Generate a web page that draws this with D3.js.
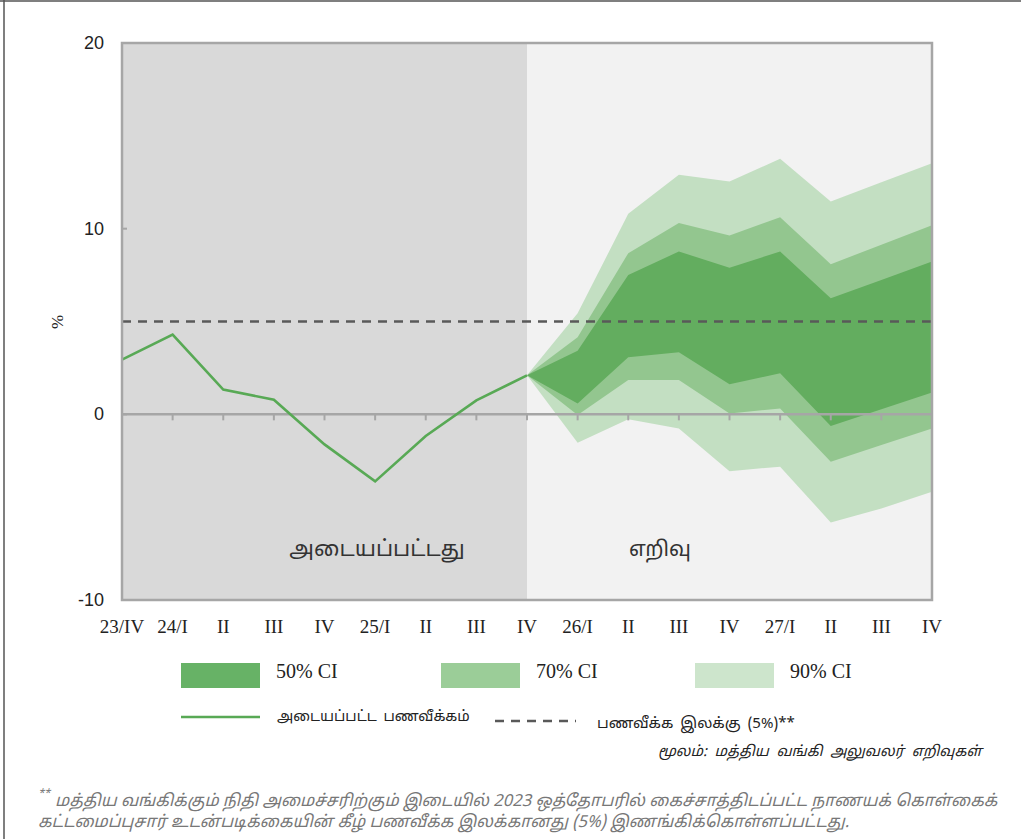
<!DOCTYPE html>
<html><head><meta charset="utf-8">
<script src="https://cdn.jsdelivr.net/npm/d3@7"></script>
<style>
html,body{margin:0;padding:0;background:#fff;}
svg{display:block;}
</style></head>
<body>
<svg id="chart" width="1021" height="839"></svg>
<script>
const categories = ["23/IV","24/I","II","III","IV","25/I","II","III","IV","26/I","II","III","IV","27/I","II","III","IV"];
const actual = [2.95, 4.3, 1.33, 0.79, -1.62, -3.61, -1.17, 0.75, 2.1];
// forecast bands start at index 8 (25/IV)
const ci50Upper = [2.1, 3.43, 7.51, 8.77, 7.9, 8.77, 6.25, 7.24, 8.23];
const ci50Lower = [2.1, 0.59, 3.07, 3.34, 1.62, 2.21, -0.63, 0.27, 1.17];
const ci70Upper = [2.1, 4.15, 8.68, 10.3, 9.63, 10.62, 8.09, 9.13, 10.19];
const ci70Lower = [2.1, -0.04, 1.85, 1.85, 0.05, 0.32, -2.55, -1.65, -0.76];
const ci90Upper = [2.1, 5.44, 10.8, 12.9, 12.54, 13.76, 11.46, 12.5, 13.53];
const ci90Lower = [2.1, -1.53, -0.27, -0.76, -3.06, -2.82, -5.82, -5.07, -4.17];
const yTicks = [-10, 0, 10, 20];
const target = 5;
const forecastStart = 8;

const svg = d3.select("#chart");
const L = 122, R = 932, T = 43, B = 600;
const x = d3.scalePoint().domain(d3.range(categories.length)).range([L, R]);
const y = d3.scaleLinear().domain([-10, 20]).range([B, T]);

// outer frame
svg.append("line").attr("x1",4).attr("x2",4).attr("y1",0).attr("y2",839).attr("stroke","#555").attr("stroke-width",1.5);
svg.append("line").attr("x1",0).attr("x2",1021).attr("y1",1).attr("y2",1).attr("stroke","#555").attr("stroke-width",1.5);

// backgrounds
svg.append("rect").attr("x",L).attr("y",T).attr("width",x(forecastStart)-L).attr("height",B-T).attr("fill","#d9d9d9");
svg.append("rect").attr("x",x(forecastStart)).attr("y",T).attr("width",R-x(forecastStart)).attr("height",B-T).attr("fill","#f2f2f2");

// bands
const fIdx = d3.range(forecastStart, categories.length);
function band(up, lo, color){
  const a = d3.area().x((d,i)=>x(fIdx[i])).y0((d,i)=>y(lo[i])).y1((d,i)=>y(up[i]));
  svg.append("path").datum(up).attr("d", a).attr("fill", color);
}
band(ci90Upper, ci90Lower, "#c3dfc2");
band(ci70Upper, ci70Lower, "#93c68f");
band(ci50Upper, ci50Lower, "#63ad5f");

// zero line & ticks
svg.append("line").attr("x1",L).attr("x2",R).attr("y1",y(0)).attr("y2",y(0)).attr("stroke","#a6a6a6").attr("stroke-width",2.5);
svg.selectAll(".xt").data(d3.range(categories.length)).join("line")
  .attr("x1",d=>x(d)).attr("x2",d=>x(d)).attr("y1",y(0)).attr("y2",y(0)+6)
  .attr("stroke","#a6a6a6").attr("stroke-width",2);
// y ticks (inward)
svg.selectAll(".yt").data(yTicks).join("line")
  .attr("x1",L).attr("x2",L+5).attr("y1",d=>y(d)).attr("y2",d=>y(d))
  .attr("stroke","#a6a6a6").attr("stroke-width",2);

// target dashed line
svg.append("line").attr("x1",L).attr("x2",R).attr("y1",y(target)).attr("y2",y(target))
  .attr("stroke","#595959").attr("stroke-width",2.5).attr("stroke-dasharray","9,7");

// actual line
svg.append("path").datum(actual)
  .attr("d", d3.line().x((d,i)=>x(i)).y(d=>y(d)))
  .attr("fill","none").attr("stroke","#58a955").attr("stroke-width",2.6);

// border
svg.append("rect").attr("x",L).attr("y",T).attr("width",R-L).attr("height",B-T)
  .attr("fill","none").attr("stroke","#a6a6a6").attr("stroke-width",2.5);

// y labels
svg.selectAll(".yl").data(yTicks).join("text")
  .attr("x",104).attr("y",d=>y(d)+6).attr("text-anchor","end")
  .attr("font-family","Liberation Sans, Arial, sans-serif").attr("font-size",18).attr("fill","#222")
  .text(d=>d);
svg.append("text").attr("transform","translate(63,322) rotate(-90)").attr("text-anchor","middle")
  .attr("font-family","Liberation Serif, serif").attr("font-size",17).attr("fill","#222").text("%");

// x labels
svg.selectAll(".xl").data(categories).join("text")
  .attr("x",(d,i)=>x(i)).attr("y",633).attr("text-anchor","middle")
  .attr("font-family","Liberation Serif, serif").attr("font-size",19).attr("fill","#222")
  .text(d=>d);

const tamil = "'Noto Sans Tamil', Latha, 'Noto Sans', sans-serif";
// inside labels
svg.append("text").attr("x",377).attr("y",556).attr("text-anchor","middle")
  .attr("font-family",tamil).attr("font-size",22).attr("fill","#333").text("அடையப்பட்டது");
svg.append("text").attr("x",660).attr("y",556).attr("text-anchor","middle")
  .attr("font-family",tamil).attr("font-size",21).attr("fill","#333").text("எறிவு");

// legend
const legendBands = [
  {label:"50% CI", color:"#67b266", x:181},
  {label:"70% CI", color:"#9bcd98", x:441},
  {label:"90% CI", color:"#cde5cc", x:695}
];
legendBands.forEach(l=>{
  svg.append("rect").attr("x",l.x).attr("y",663).attr("width",79).attr("height",25).attr("fill",l.color);
  svg.append("text").attr("x",l.x+95).attr("y",678).attr("font-family","Liberation Serif, serif")
    .attr("font-size",20).attr("fill","#222").text(l.label);
});
svg.append("line").attr("x1",181).attr("x2",260).attr("y1",717).attr("y2",717).attr("stroke","#58a955").attr("stroke-width",2.5);
svg.append("text").attr("x",277).attr("y",721).attr("font-family",tamil).attr("font-size",14.5).attr("word-spacing",3).attr("fill","#222").text("அடையப்பட்ட பணவீக்கம்");
svg.append("line").attr("x1",495).attr("x2",576).attr("y1",721).attr("y2",721).attr("stroke","#595959").attr("stroke-width",2.5).attr("stroke-dasharray","9,7");
svg.append("text").attr("x",597).attr("y",728).attr("font-family",tamil).attr("font-size",15).attr("word-spacing",3).attr("fill","#222").text("பணவீக்க இலக்கு (5%)**");

svg.append("text").attr("x",982).attr("y",756).attr("text-anchor","end").attr("font-family",tamil)
  .attr("font-style","italic").attr("font-size",14.5).attr("word-spacing",4).attr("fill","#222").text("மூலம்: மத்திய வங்கி அலுவலர் எறிவுகள்");

// footnote
const fn = svg.append("text").attr("font-family",tamil).attr("font-style","italic").attr("font-size",16.5).attr("fill","#777");
fn.append("tspan").attr("x",38).attr("y",797).attr("font-size",11).text("**");
fn.append("tspan").attr("x",55).attr("y",806).text("மத்திய வங்கிக்கும் நிதி அமைச்சரிற்கும் இடையில் 2023 ஒத்தோபரில் கைச்சாத்திடப்பட்ட நாணயக் கொள்கைக்");
fn.append("tspan").attr("x",38).attr("y",827).text("கட்டமைப்புசார் உடன்படிக்கையின் கீழ் பணவீக்க இலக்கானது (5%) இணங்கிக்கொள்ளப்பட்டது.");
</script>
</body></html>
